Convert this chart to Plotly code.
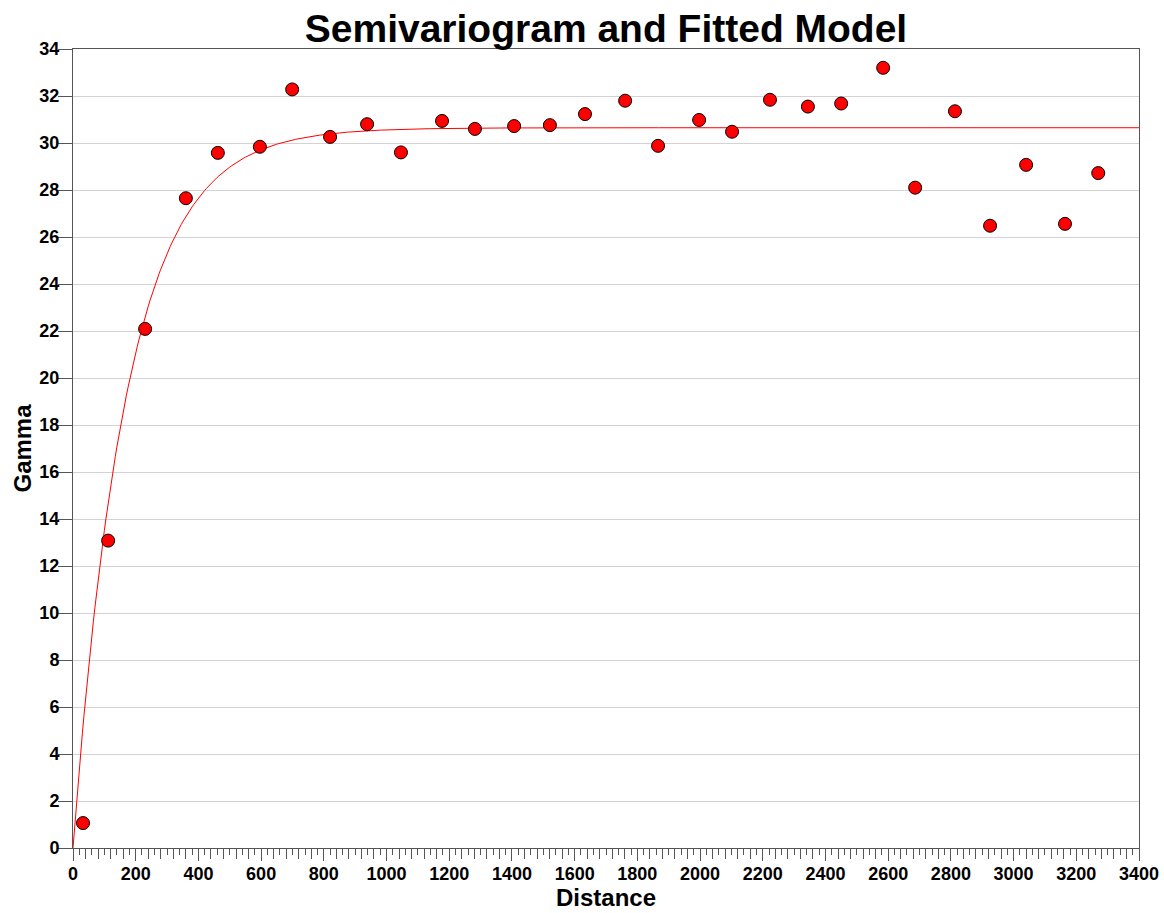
import numpy as np
import plotly.graph_objects as go

distance = [32, 112, 230, 360, 462, 596, 699, 820, 938, 1046, 1177, 1282, 1407,
            1521, 1633, 1761, 1866, 1997, 2102, 2223, 2344, 2450, 2584, 2686,
            2813, 2925, 3040, 3164, 3270]
gamma = [1.06, 13.08, 22.09, 27.65, 29.58, 29.84, 32.28, 30.26, 30.80, 29.60,
         30.94, 30.60, 30.72, 30.76, 31.23, 31.80, 29.88, 30.98, 30.48, 31.84,
         31.55, 31.68, 33.20, 28.10, 31.35, 26.48, 29.07, 26.56, 28.72]

# Fitted exponential model parameters
nugget = 0.0
sill = 30.65
range_param = 172.0
model_h = np.linspace(0, 3400, 681)
model_gamma = nugget + (sill - nugget) * (1 - np.exp(-model_h / range_param))

x_range = [0, 3400]
y_range = [0, 34]

fig = go.Figure()
fig.add_trace(go.Scatter(x=model_h, y=model_gamma, mode="lines",
                         line=dict(color="#ff0000", width=1), showlegend=False,
                         hoverinfo="skip"))
fig.add_trace(go.Scatter(x=distance, y=gamma, mode="markers",
                         marker=dict(color="#ff0000", size=13,
                                     line=dict(color="#000000", width=1)),
                         showlegend=False))
# invisible trace to anchor secondary tick axis
fig.add_trace(go.Scatter(x=[0], y=[0], xaxis="x2", mode="markers",
                         marker=dict(opacity=0), showlegend=False, hoverinfo="skip"))

axis_color = "#555555"
FONT = "Liberation Sans, Arial, sans-serif"
tickfont = dict(family=FONT, size=18, color="#000000", weight="bold")

fig.update_layout(
    width=1164, height=913,
    margin=dict(l=73, r=25, t=49, b=65, autoexpand=False),
    paper_bgcolor="white", plot_bgcolor="white",
    title=dict(text="Semivariogram and Fitted Model",
               font=dict(family=FONT, size=39, color="#000000", weight="bold"),
               x=0.5, xanchor="center", xref="paper", y=0.969, yanchor="middle"),
    xaxis=dict(range=x_range, dtick=200, tick0=0, ticks="outside", ticklen=12,
               tickcolor=axis_color, tickwidth=1, showline=True,
               linecolor=axis_color, linewidth=1, mirror=True, showgrid=False,
               zeroline=False, tickfont=tickfont, automargin=False,
               ticklabelstandoff=-3,
               title=dict(text="Distance", standoff=0,
                          font=dict(family=FONT, size=24, color="#000000",
                                    weight="bold")),
               minor=dict(dtick=20, tick0=0, ticks="outside", ticklen=6,
                          tickcolor=axis_color, showgrid=False)),
    xaxis2=dict(range=x_range, overlaying="x", side="bottom", anchor="y",
                dtick=40, tick0=0, ticks="outside", ticklen=10,
                tickcolor=axis_color, showticklabels=False, showline=False,
                showgrid=False, zeroline=False),
    yaxis=dict(range=y_range, dtick=2, tick0=0, ticks="outside", ticklen=14,
               tickcolor=axis_color, tickwidth=1, showline=True,
               linecolor=axis_color, linewidth=1, mirror=True, showgrid=True,
               gridcolor="#d3d3d3", gridwidth=1, zeroline=False,
               tickfont=tickfont, automargin=False, ticklabelstandoff=-5,
               title=dict(text="Gamma", standoff=0,
                          font=dict(family=FONT, size=24, color="#000000",
                                    weight="bold"))),
)

fig.write_html("out.html", config={"displayModeBar": False},
               post_script="document.body.style.margin='0px';")
